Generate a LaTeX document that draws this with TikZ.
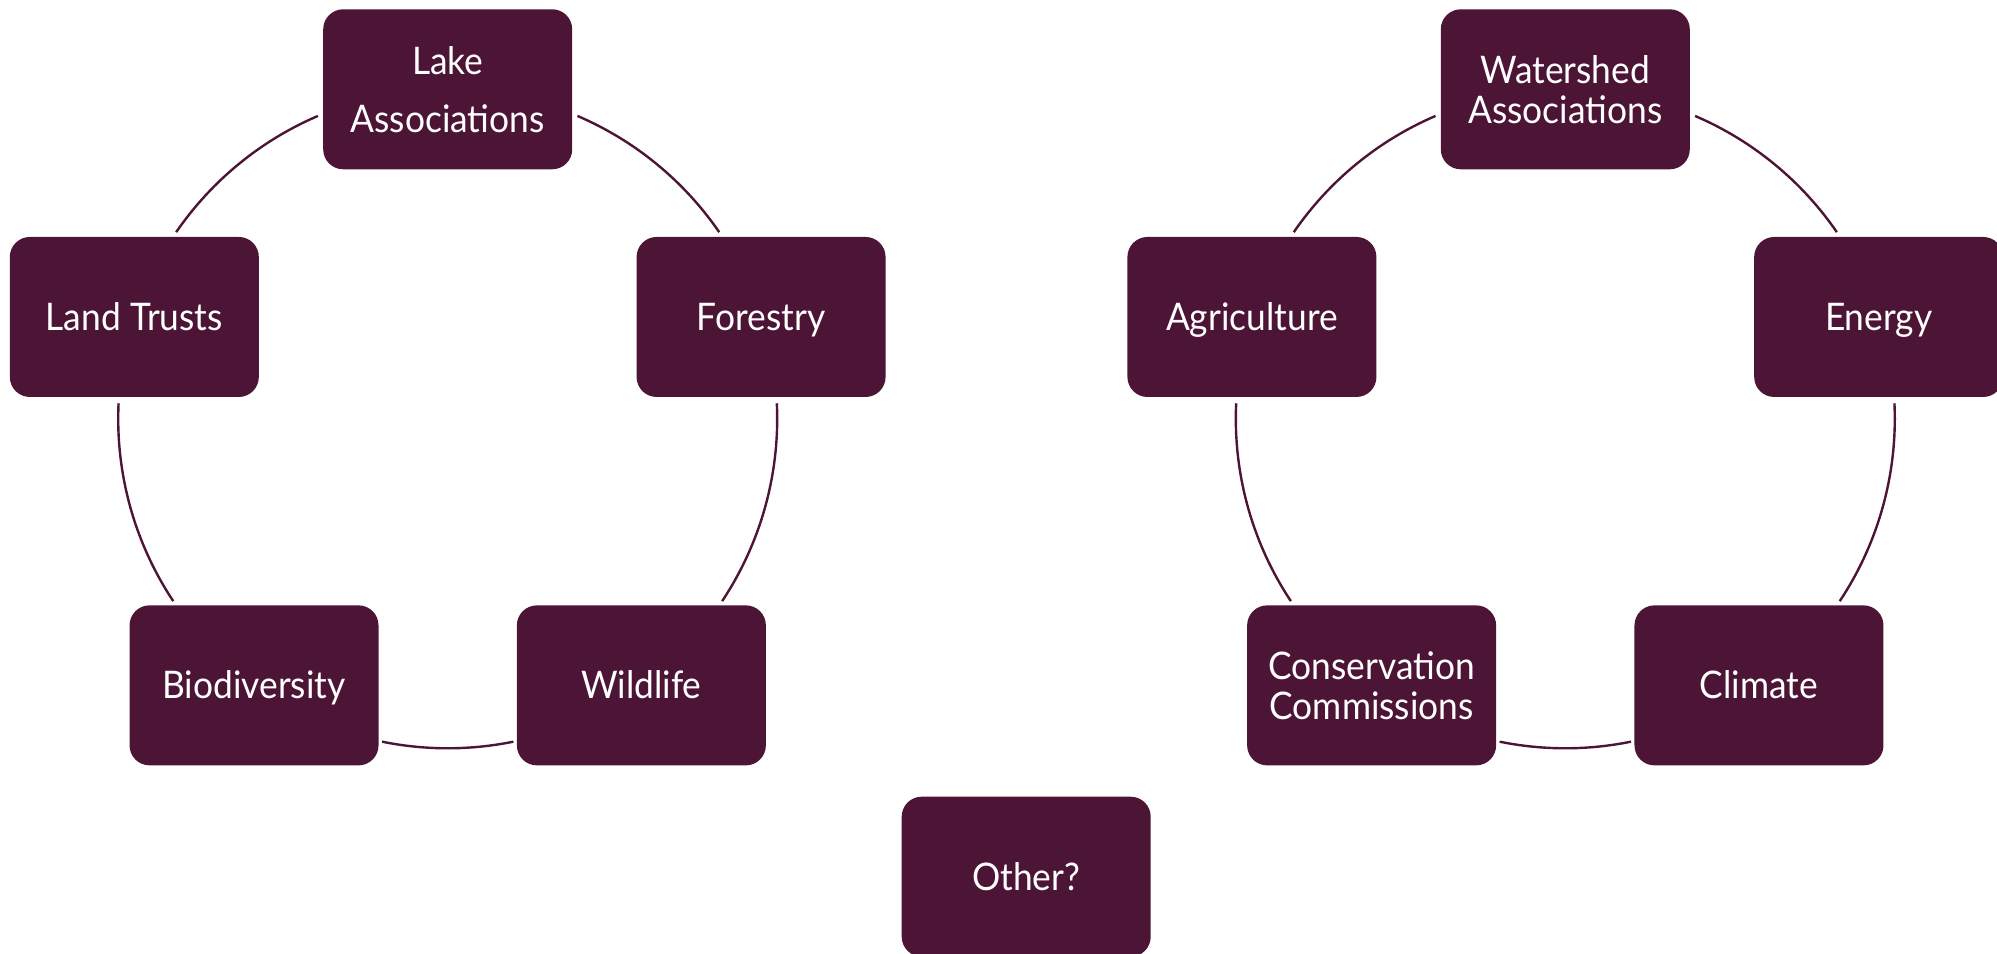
\documentclass[tikz,border=0pt]{standalone}
\usepackage{fontspec}
\setmainfont{Lato}[FakeStretch=0.93]
\usetikzlibrary{calc}
\definecolor{plum}{HTML}{4D1535}
\begin{document}
\begin{tikzpicture}[x=0.5pt,y=0.5pt,
  box/.style={fill=plum, rounded corners=10pt, minimum width=124.5pt, minimum height=80pt,
    inner sep=0pt, text=white, font=\fontsize{19}{19.8}\selectfont, align=center, text depth=0pt},
  one/.style={text height=13.6pt},
  link/.style={draw=plum, line width=1.2pt}]
\useasboundingbox (0,0) rectangle (1997,953);
\clip (0,0) rectangle (1997,953);
\coordinate (c1) at (447.7,534.2);
\coordinate (c2) at (1565.3,534.2);
% left cycle
\node[box] (lake) at ($(c1)+(90:329.5)$) {Lake\\[9pt]Associations};
\node[box,one] (forestry) at ($(c1)+(18:329.5)$) {Forestry};
\node[box,one] (wildlife) at ($(c1)+(-54:329.5)$) {Wildlife};
\node[box,one] (biodiv) at ($(c1)+(-126:329.5)$) {Biodiversity};
\node[box,one] (land) at ($(c1)+(162:329.5)$) {Land Trusts};
% right cycle
\node[box] (watershed) at ($(c2)+(90:329.5)$) {Watershed\\Associations};
\node[box,one] (energy) at ($(c2)+(18:329.5)$) {Energy};
\node[box,one] (climate) at ($(c2)+(-54:329.5)$) {Climate};
\node[box] (conserv) at ($(c2)+(-126:329.5)$) {Conservation\\Commissions};
\node[box,one] (agri) at ($(c2)+(162:329.5)$) {Agriculture};
% other
\node[box,one] (other) at (1026.2,76.3) {Other?};
% arcs
\foreach \c in {c1,c2}{
  \draw[link] ($(\c)+(66.8:329.5)$) arc[start angle=66.8, end angle=34.5, radius=329.5];
  \draw[link] ($(\c)+(2.7:329.5)$) arc[start angle=2.7, end angle=-33.6, radius=329.5];
  \draw[link] ($(\c)+(-78.5:329.5)$) arc[start angle=-78.5, end angle=-101.5, radius=329.5];
  \draw[link] ($(\c)+(-146.4:329.5)$) arc[start angle=-146.4, end angle=-182.7, radius=329.5];
  \draw[link] ($(\c)+(145.5:329.5)$) arc[start angle=145.5, end angle=113.2, radius=329.5];
}
\end{tikzpicture}
\end{document}
